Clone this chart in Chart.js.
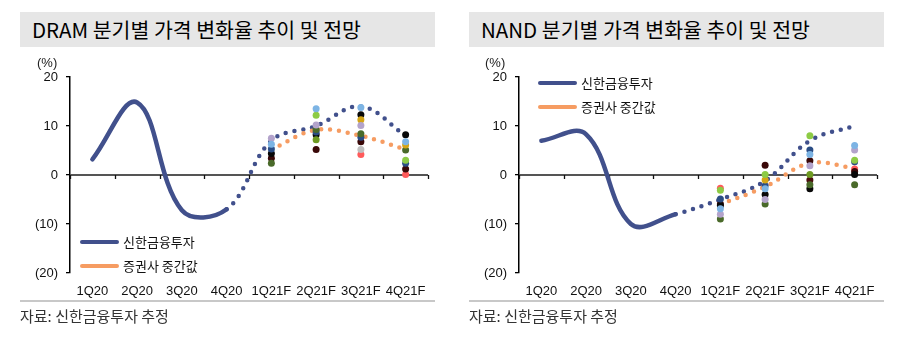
<!DOCTYPE html>
<html><head><meta charset="utf-8">
<script src="https://cdn.jsdelivr.net/npm/chart.js@4/dist/chart.umd.min.js"></script>
<style>
body{margin:0;background:#fff;width:904px;height:344px;overflow:hidden;position:relative;font-family:'Noto Sans CJK KR','Noto Sans',sans-serif;}
canvas{position:absolute;top:0;}
.title{position:absolute;top:12px;height:35px;line-height:35px;background:#E6E6E6;font-size:20.5px;color:#000;padding-left:12px;box-sizing:border-box;width:415px;white-space:nowrap;}
.sep{position:absolute;top:300px;height:2px;background:#C8C8C8;width:415px;}
.src{position:absolute;top:305px;font-size:15px;color:#333;white-space:nowrap;line-height:22px;}
.unit{position:absolute;top:55px;font-size:13px;color:#222;font-family:'Liberation Sans',sans-serif;}
.leg{position:absolute;font-size:13px;color:#111;white-space:nowrap;line-height:18px;height:18px;}
.leg i{position:absolute;left:0;top:7px;width:39px;height:4px;border-radius:2px;}
.leg span{position:absolute;left:43px;top:0;}
</style></head>
<body>
<canvas id="c1" width="452" height="344" style="left:0"></canvas>
<canvas id="c2" width="452" height="344" style="left:449px"></canvas>
<div class="title" style="left:20px">DRAM 분기별 가격 변화율 추이 및 전망</div>
<div class="title" style="left:469px">NAND 분기별 가격 변화율 추이 및 전망</div>
<div class="unit" style="left:37px">(%)</div>
<div class="unit" style="left:485px">(%)</div>
<div id="leg1"></div><div id="leg2"></div>
<div class="sep" style="left:20px"></div>
<div class="sep" style="left:469px"></div>
<div class="src" style="left:20px">자료: 신한금융투자 추정</div>
<div class="src" style="left:469px">자료: 신한금융투자 추정</div>
<script>
// ---- data ----
const categories = ['1Q20','2Q20','3Q20','4Q20','1Q21F','2Q21F','3Q21F','4Q21F'];
const seriesNames = ['신한금융투자','증권사 중간값'];
const yTickValues = [20, 10, 0, -10, -20];

const dramShinhan = [3.2, 14.8, -7.2, -7, 7, 10, 14, 8];
const dramMedian  = [null, null, null, null, 5.2, 9.2, 8.0, 5.2];
const nandShinhan = [7, 8.3, -10, -8, -5, -1.2, 7, 10];
const nandMedian  = [null, null, null, null, -6, -2.4, 2.4, 1.4];

// other brokers' estimates (1Q21F..4Q21F)
const dramLightBlue = [6.3, 13.5, 13.8, 6.8];
const dramGreen     = [null, 12.2, null, 3.0];
const dramLavender  = [7.5, 10.2, 10.1, null];
const dramBlack     = [4.4, 8.2, 12.3, 8.2];
const dramNavy      = [5.3, 8.8, 7.7, 2.4];
const dramMaroon    = [3.4, 5.2, 6.8, 1.2];
const dramOlive     = [2.4, 9.3, 8.4, 5.1];
const dramGold      = [null, null, 11.3, 6.1];
const dramGrey      = [null, null, 5.2, null];
const dramRed       = [null, null, 4.2, 0.1];
const dramOlive2    = [null, 7.2, null, null];

const nandLightBlue = [-6.9, -2.8, 4.2, 6.0];
const nandGreen     = [-3.1, 0.1, 8.0, 3.0];
const nandLavender  = [-8.0, -5.0, 1.9, 5.1];
const nandBlack     = [-6.2, -4.0, -2.8, 0.1];
const nandNavy      = [-4.9, -2.2, 5.1, 2.7];
const nandMaroon    = [-5.9, 2.0, 2.9, 0.7];
const nandOlive     = [-9.0, -5.9, -2.0, -2.0];
const nandGold      = [null, -1.0, null, null];
const nandRed       = [-2.7, null, null, 1.2];
const nandOlive2    = [null, null, 0.1, null];
const nandMaroon2   = [null, null, -1.0, null];

// ---- styles ----
const BLUE = '#41508C', ORANGE = '#F69C62';
const C = {lightBlue:'#7DB4E4', green:'#8DCB45', lavender:'#B3A3CB', black:'#080808', navy:'#2B4D85',
  maroon:'#3A0808', olive:'#4A6A2A', gold:'#D5A515', grey:'#BFBFBF', red:'#FF5B5B', olive2:'#6E9A22', maroon2:'#4A0E0E'};

const pad4 = a => [null, null, null, null].concat(a);
function dots(arr, color){
  return {type:'line', data:pad4(arr), showLine:false, pointRadius:3.5, pointHoverRadius:3.5,
    pointBackgroundColor:color, pointBorderWidth:0, order:0};
}
function mainLine(arr){
  return {type:'line', label:seriesNames[0], data:arr, borderColor:BLUE, borderWidth:4.5, borderCapStyle:'round',
    borderJoinStyle:'round', pointRadius:0, tension:0.38, order:2,
    segment:{borderDash: ctx => ctx.p0DataIndex >= 3 ? [0, 9] : undefined}};
}
function medLine(arr){
  return {type:'line', label:seriesNames[1], data:arr, borderColor:ORANGE, borderWidth:4.5, borderCapStyle:'round',
    borderDash:[0, 9], pointRadius:0, tension:0.38, order:1};
}

const zeroPlugin = {
  id:'zero',
  beforeDatasetsDraw(chart){
    const {ctx, scales:{x, y}, chartArea} = chart;
    const y0 = y.getPixelForValue(0);
    ctx.save();
    ctx.strokeStyle = '#555'; ctx.lineWidth = 2;
    ctx.beginPath(); ctx.moveTo(chartArea.left, y0); ctx.lineTo(chartArea.right, y0); ctx.stroke();
    ctx.strokeStyle = '#111'; ctx.lineWidth = 1.3;
    for (let i = 0; i <= categories.length; i++) {
      const px = Math.round(x.getPixelForValue(i - 0.5)) + 0.5;
      ctx.beginPath(); ctx.moveTo(px, y0); ctx.lineTo(px, y0 + 4); ctx.stroke();
    }
    ctx.restore();
  }
};

function makeChart(id, datasets){
  return new Chart(document.getElementById(id), {
    data:{labels:categories, datasets},
    options:{
      responsive:false, animation:false, devicePixelRatio:1,
      layout:{padding:{left:20, right:24, top:77, bottom:41}},
      plugins:{legend:{display:false}, tooltip:{enabled:false}},
      scales:{
        x:{type:'category', offset:true, grid:{display:false, drawTicks:false}, border:{display:false},
          ticks:{color:'#111', padding:11, maxRotation:0, autoSkip:false,
            font:{family:"'Liberation Sans', sans-serif", size:13}},
          afterFit(s){ s.height = 30; }},
        y:{min:-20, max:20, afterBuildTicks(s){ s.ticks = yTickValues.map(v => ({value:v})); },
          grid:{drawOnChartArea:false, drawTicks:true, tickLength:4, color:'#000', lineWidth:1.3},
          border:{display:true, color:'#000', width:1.5},
          ticks:{color:'#111', padding:8, font:{family:"'Liberation Sans', sans-serif", size:13},
            callback: v => v < 0 ? '(' + (-v) + ')' : String(v)},
          afterFit(s){ s.width = 50; }}
      }
    },
    plugins:[zeroPlugin]
  });
}

makeChart('c1', [
  dots(dramLightBlue, C.lightBlue), dots(dramGreen, C.green), dots(dramLavender, C.lavender),
  dots(dramGold, C.gold), dots(dramGrey, C.grey), dots(dramOlive, C.olive), dots(dramOlive2, C.olive2),
  dots(dramNavy, C.navy), dots(dramBlack, C.black), dots(dramMaroon, C.maroon), dots(dramRed, C.red),
  medLine(dramMedian), mainLine(dramShinhan)
]);
makeChart('c2', [
  dots(nandLightBlue, C.lightBlue), dots(nandGreen, C.green), dots(nandLavender, C.lavender),
  dots(nandGold, C.gold), dots(nandOlive, C.olive), dots(nandOlive2, C.olive2),
  dots(nandNavy, C.navy), dots(nandBlack, C.black), dots(nandMaroon, C.maroon), dots(nandMaroon2, C.maroon2),
  dots(nandRed, C.red), medLine(nandMedian), mainLine(nandShinhan)
]);

function legend(el, left, top){
  const colors = [BLUE, ORANGE];
  seriesNames.forEach((n, i) => {
    const d = document.createElement('div');
    d.className = 'leg';
    d.style.left = left + 'px'; d.style.top = (top + i * 24) + 'px';
    d.innerHTML = '<i style="background:' + colors[i] + '"></i><span>' + n + '</span>';
    el.appendChild(d);
  });
}
legend(document.getElementById('leg1'), 80, 233);
legend(document.getElementById('leg2'), 538, 74);
</script>
</body></html>
